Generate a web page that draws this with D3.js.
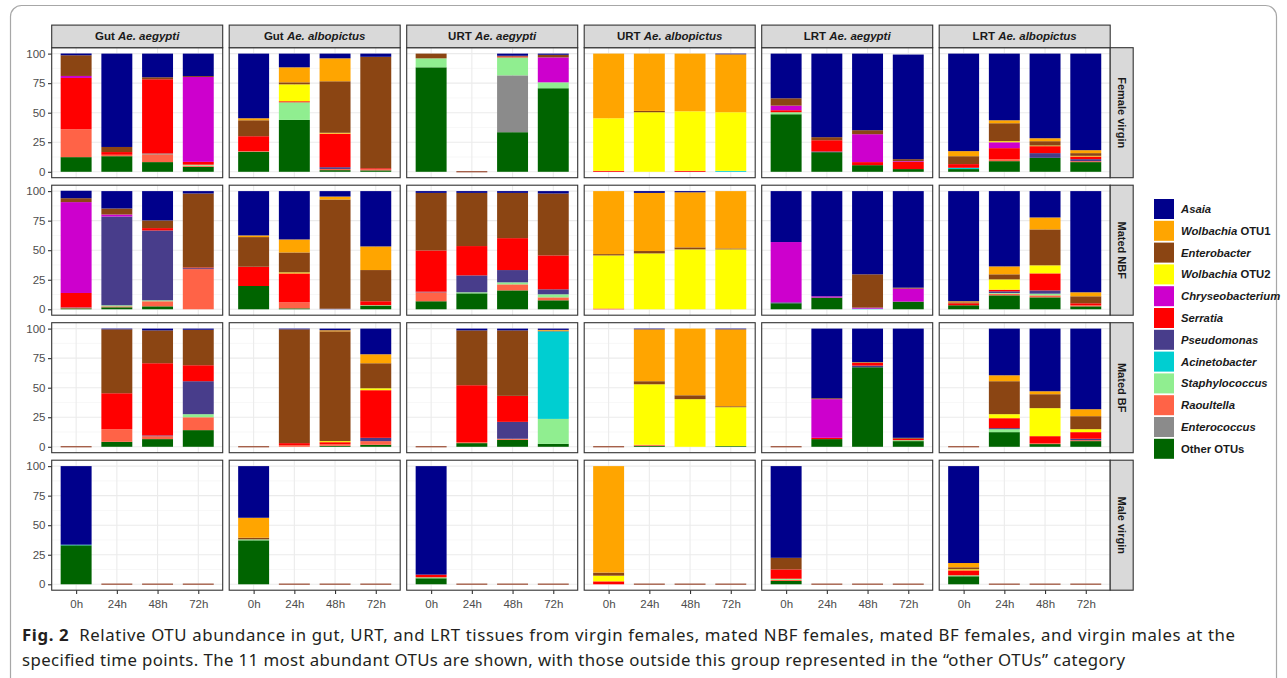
<!DOCTYPE html>
<html>
<head>
<meta charset="utf-8">
<script src="https://cdn.jsdelivr.net/npm/d3@7"></script>
<style>
  body { margin: 0; background: #fff; }
  svg { display: block; }
</style>
</head>
<body>
<svg id="chart" width="1287" height="678"></svg>
<script>
// ---- data -------------------------------------------------------------
const timePoints = ["0h", "24h", "48h", "72h"];
const conditions = ["Female virgin", "Mated NBF", "Mated BF", "Male virgin"];
const tissues = ["Gut", "Gut", "URT", "URT", "LRT", "LRT"];
const species = ["Ae. aegypti", "Ae. albopictus", "Ae. aegypti", "Ae. albopictus", "Ae. aegypti", "Ae. albopictus"];
const yTicks = [0, 25, 50, 75, 100];

// stacking order, bottom to top
const taxonKeys = ["O", "En", "R", "St", "Ac", "Ps", "Se", "C", "W2", "Eb", "W1", "A"];
const taxonNames = ["Other OTUs", "Enterococcus", "Raoultella", "Staphylococcus", "Acinetobacter",
  "Pseudomonas", "Serratia", "Chryseobacterium", "Wolbachia OTU2", "Enterobacter", "Wolbachia OTU1", "Asaia"];
const taxonColors = ["#006400", "#8b8b8b", "#ff6347", "#90ee90", "#00ced1",
  "#483d8b", "#ff0000", "#cd00cd", "#ffff00", "#8b4513", "#ffa500", "#00008b"];

// relative abundance (%) per condition (rows) and time point (columns); {} = no sample
const gutAegypti = [
  [{O:12.4,R:23.6,Se:43.4,C:1.7,Eb:17.5,A:1.5}, {O:13.2,R:1.2,Se:2.3,Eb:4.3,A:79}, {O:8.2,R:6.7,Ac:0.5,Se:62.9,Eb:1.7,A:20}, {O:4.2,R:1,St:0.8,Se:2.4,C:71.8,Eb:0.8,A:19}],
  [{O:0.8,R:0.5,Ps:0.3,Se:12.2,C:76.9,Eb:3.3,A:6.3}, {O:1.7,R:0.8,St:0.9,Ps:75.1,C:1.7,Eb:5.1,A:14.7}, {O:2.5,R:4.3,St:0.8,Ps:59.1,Se:2,Eb:6.5,A:24.8}, {R:34,Ps:0.8,Se:0.6,Eb:62.6,A:2}],
  [{}, {O:4.2,R:10.7,Se:30.4,Eb:54.1,A:0.6}, {O:6.5,R:2.5,Ps:0.6,Se:61.1,Eb:27.8,A:1.5}, {O:14.1,R:10.9,St:2.6,Ps:27.9,Se:13.5,Eb:30,A:1}],
  [{O:33,Ac:0.5,A:66.5}, {}, {}, {}]
];
const gutAlbopictus = [
  [{O:17,R:0.5,Se:12.6,Eb:13.5,W1:1.7,A:54.7}, {O:43.9,St:14.9,Se:0.9,W2:14.3,Eb:1.7,W1:12.7,A:11.6}, {O:1.4,R:1,Ps:1.5,Se:28.5,W2:0.6,Eb:43.6,W1:19.4,A:4}, {O:1.2,R:1,Se:0.8,Eb:94.3,A:2.7}],
  [{O:19.7,Se:16.3,Eb:25.1,W1:1.4,A:37.5}, {O:0.8,R:5.1,Se:24.5,W2:0.8,Eb:16.9,W1:11,A:40.9}, {Ps:0.5,Eb:92.4,W1:2.5,A:4.6}, {O:3.1,St:0.4,Se:3.3,Eb:26.4,W1:20,A:46.8}],
  [{}, {R:1.4,Se:1.7,Eb:96.3,A:0.6}, {O:0.8,R:1.5,Se:1.6,W2:0.9,Eb:92.9,W1:0.9,A:1.4}, {O:1.7,R:3.1,Ps:2.8,Se:40.3,W2:1.6,Eb:21.2,W1:7.6,A:21.7}],
  [{O:37.2,St:0.8,Eb:1.4,W1:16.9,A:43.7}, {}, {}, {}]
];
const urtAegypti = [
  [{O:88.4,St:7.6,Eb:4}, {}, {O:33.5,En:48.1,St:15.2,Se:0.8,Eb:0.6,A:1.8}, {O:70.7,St:5,C:21.1,Eb:2.2,A:1}],
  [{O:6.8,R:7.6,Ps:0.5,Se:34.9,Eb:48.7,A:1.5}, {O:13.5,St:0.9,Ps:14.3,Se:24.8,Eb:45,A:1.5}, {O:16,R:5.1,St:1.7,Ps:10.4,Se:27,Eb:38.3,A:1.5}, {O:7.6,R:2.5,St:2.6,Ps:4.2,Se:28.7,Eb:52.4,A:2}],
  [{}, {O:3.1,R:0.8,Se:48.2,Eb:46.4,A:1.5}, {O:5.9,R:0.9,Ps:14.3,Se:22,Eb:55.4,A:1.5}, {O:2.5,St:21.1,Ac:74.1,Eb:0.6,W1:0.6,A:1.1}],
  [{O:5.1,St:0.8,Se:2.3,A:91.8}, {}, {}, {}]
];
const urtAlbopictus = [
  [{Se:0.8,W2:44.5,W1:54.7}, {W2:50.4,Eb:1.1,W1:48.5}, {Se:0.8,W2:50.4,W1:48.8}, {Ac:0.8,W2:49.6,W1:49,A:0.6}],
  [{Se:0.6,W2:45,Eb:1.1,W1:53.3}, {W2:47.3,Eb:2,W1:49.2,A:1.5}, {W2:50.7,Eb:1.7,W1:46.6,A:1}, {W2:50.7,Eb:0.8,W1:48.5}],
  [{}, {O:0.8,R:0.9,W2:51.2,Eb:2.6,W1:43.9,A:0.6}, {W2:40.3,Eb:3.3,W1:56.4}, {O:0.6,W2:32.9,Eb:0.8,W1:65.1,A:0.6}],
  [{Se:2.5,W2:4.8,Eb:2.6,W1:90.1}, {}, {}, {}]
];
const lrtAegypti = [
  [{O:48.7,St:1.7,Se:1.7,C:3.9,Eb:6.2,A:37.8}, {O:16.6,Ps:0.6,Se:9.5,Eb:2.6,A:70.7}, {O:5.6,Se:2.6,C:23.6,Eb:3.4,A:64.8}, {O:2.3,Se:6.1,C:0.6,Eb:1.7,A:88.5}],
  [{O:5.1,Ps:0.8,C:51,A:43.1}, {O:9.9,C:1.1,A:89}, {Ac:0.5,C:0.9,Eb:28.2,A:70.4}, {O:6.5,C:11,Eb:0.8,A:81.7}],
  [{}, {O:6.5,Se:1.1,C:32.7,Eb:0.8,A:58.9}, {O:67.3,Ps:1.4,Se:2.2,W1:0.6,A:28.5}, {O:4.8,St:0.8,Se:1.2,Eb:0.8,A:92.4}],
  [{O:2.8,R:1,St:0.9,Se:7.9,Eb:9.8,A:77.6}, {}, {}, {}]
];
const lrtAlbopictus = [
  [{O:2.3,Ac:1.1,Se:3.1,Eb:6.7,W1:4.3,A:82.5}, {O:9,R:1.7,Se:9.3,C:5,W2:0.9,Eb:15.2,W1:2.5,A:56.4}, {O:11.8,Ps:4,Se:5.9,W2:0.5,Eb:3.7,W1:2.5,A:71.6}, {O:8.2,R:0.8,Ps:1.7,Se:2.3,W2:0.5,Eb:2.3,W1:2.5,A:81.7}],
  [{O:3.4,Se:1.7,Eb:0.8,W1:0.9,A:93.2}, {O:11.8,R:1.4,St:0.6,Ps:1.4,Se:1.4,W2:8.7,Eb:4.3,W1:6.7,A:63.7}, {O:10.1,R:1.7,St:1.4,Ps:2.8,Se:14.4,W2:6.8,Eb:30.4,W1:10.1,A:22.3}, {O:2.5,R:0.9,Se:1.7,Eb:5.9,W1:3.4,A:85.6}],
  [{}, {O:12.4,St:2.5,Ps:0.9,Se:8.4,W2:3.4,Eb:27.9,W1:5,A:39.5}, {O:2.3,R:0.8,Se:5.9,W2:23.7,Eb:11.8,W1:2.5,A:53}, {O:4.8,R:0.8,Ps:1.2,Se:5.6,W2:2.5,Eb:11,W1:5.9,A:68.2}],
  [{O:6.8,St:0.8,Se:4.2,W2:0.9,Eb:1.7,W1:3.6,A:82}, {}, {}, {}]
];
const panelData = [gutAegypti, gutAlbopictus, urtAegypti, urtAlbopictus, lrtAegypti, lrtAlbopictus];

const captionLines = [
  "Relative OTU abundance in gut, URT, and LRT tissues from virgin females, mated NBF females, mated BF females, and virgin males at the",
  "specified time points. The 11 most abundant OTUs are shown, with those outside this group represented in the \u201cother OTUs\u201d category"
];

// ---- layout -----------------------------------------------------------
const svg = d3.select("#chart");
const font = "'Liberation Sans', Arial, sans-serif";
const panelW = 171, panelH = 130;
const left0 = 51.7, top0 = 47.7;
const colStep = 177.5, rowStep = 137.5;
const stripH = 22.6, stripW = 23;
const ink = "#333333";

// outer frame of the figure
svg.append("rect")
  .attr("x", 10.5).attr("y", 5.5).attr("width", 1266).attr("height", 700)
  .attr("rx", 11).attr("fill", "none").attr("stroke", "#a7a7a7").attr("stroke-width", 1.2);

const x = d3.scalePoint().domain(timePoints).range([0, panelW]).padding(0.6);
const barW = x.step() * 0.76;
const y = d3.scaleLinear().domain([-5, 105]).range([panelH, 0]);

const stack = d3.stack().keys(taxonKeys).value((d, k) => d[k] || 0);
const colorOf = d3.scaleOrdinal().domain(taxonKeys).range(taxonColors);

panelData.forEach((colData, ci) => {
  conditions.forEach((cond, ri) => {
    const g = svg.append("g")
      .attr("transform", `translate(${left0 + ci * colStep},${top0 + ri * rowStep})`);

    // grid
    const minor = d3.range(12.5, 100, 25);
    g.selectAll(".gmin").data(minor).join("line")
      .attr("x1", 0).attr("x2", panelW)
      .attr("y1", d => y(d)).attr("y2", d => y(d))
      .attr("stroke", "#f2f2f2").attr("stroke-width", 0.6);
    g.selectAll(".gmaj").data(yTicks).join("line")
      .attr("x1", 0).attr("x2", panelW)
      .attr("y1", d => y(d)).attr("y2", d => y(d))
      .attr("stroke", "#ebebeb").attr("stroke-width", 1.1);
    g.selectAll(".gx").data(timePoints).join("line")
      .attr("x1", d => x(d)).attr("x2", d => x(d))
      .attr("y1", 0).attr("y2", panelH)
      .attr("stroke", "#ebebeb").attr("stroke-width", 1.1);

    // stacked bars
    const rows = colData[ri].map((d, i) => Object.assign({ time: timePoints[i] }, d));
    const series = stack(rows);
    g.selectAll(".layer").data(series).join("g")
      .attr("fill", s => colorOf(s.key))
      .selectAll("rect").data(s => s.filter(p => p[1] - p[0] > 0)).join("rect")
      .attr("x", p => x(p.data.time) - barW / 2)
      .attr("width", barW)
      .attr("y", p => y(p[1]))
      .attr("height", p => y(p[0]) - y(p[1]));

    // time points with no sample show an empty baseline
    const empty = rows.filter(r => d3.sum(taxonKeys, k => r[k] || 0) === 0);
    g.selectAll(".empty").data(empty).join("rect")
      .attr("x", r => x(r.time) - barW / 2).attr("width", barW)
      .attr("y", y(0) - 0.8).attr("height", 1.4)
      .attr("fill", "#a5604a");

    // panel border
    g.append("rect").attr("width", panelW).attr("height", panelH)
      .attr("fill", "none").attr("stroke", ink).attr("stroke-width", 1.1);

    // axes on the outer panels only
    if (ci === 0) {
      const ay = g.append("g").call(d3.axisLeft(y).tickValues(yTicks).tickSize(3.7).tickPadding(2.5));
      ay.select(".domain").remove();
      ay.selectAll("line").attr("stroke", ink).attr("stroke-width", 1.1);
      ay.selectAll("text").attr("fill", "#4d4d4d").attr("font-size", 11.5).attr("font-family", font);
    }
    if (ri === conditions.length - 1) {
      const ax = g.append("g").attr("transform", `translate(0,${panelH})`)
        .call(d3.axisBottom(x).tickSize(3.7).tickPadding(6));
      ax.select(".domain").remove();
      ax.selectAll("line").attr("stroke", ink).attr("stroke-width", 1.1);
      ax.selectAll("text").attr("fill", "#4d4d4d").attr("font-size", 11.5).attr("font-family", font);
    }

    // top strip
    if (ri === 0) {
      g.append("rect").attr("y", -stripH).attr("width", panelW).attr("height", stripH)
        .attr("fill", "#d9d9d9").attr("stroke", ink).attr("stroke-width", 1.1);
      const t = g.append("text").attr("x", panelW / 2).attr("y", -stripH / 2 + 4)
        .attr("text-anchor", "middle").attr("font-family", font)
        .attr("font-size", 11.5).attr("font-weight", "bold").attr("fill", "#1a1a1a");
      t.append("tspan").text(tissues[ci] + " ");
      t.append("tspan").attr("font-style", "italic").text(species[ci]);
    }
    // right strip
    if (ci === panelData.length - 1) {
      g.append("rect").attr("x", panelW).attr("width", stripW).attr("height", panelH)
        .attr("fill", "#d9d9d9").attr("stroke", ink).attr("stroke-width", 1.1);
      g.append("text")
        .attr("transform", `translate(${panelW + stripW / 2 - 4},${panelH / 2}) rotate(90)`)
        .attr("text-anchor", "middle").attr("font-family", font)
        .attr("font-size", 11).attr("font-weight", "bold").attr("fill", "#1a1a1a")
        .text(cond);
    }
  });
});

// ---- legend -----------------------------------------------------------
const legendOrder = d3.range(taxonKeys.length).reverse();
const legend = svg.append("g").attr("transform", "translate(1154,199)");
const item = legend.selectAll("g").data(legendOrder).join("g")
  .attr("transform", (d, i) => `translate(0,${i * 21.8})`);
item.append("rect").attr("width", 20).attr("height", 20).attr("fill", i => taxonColors[i]);
item.each(function (i) {
  const name = taxonNames[i];
  const t = d3.select(this).append("text").attr("x", 27).attr("y", 14)
    .attr("font-family", font).attr("font-size", 11.3).attr("font-weight", "bold").attr("fill", "#1a1a1a");
  if (name === "Other OTUs") {
    t.text(name);
  } else if (name.startsWith("Wolbachia")) {
    t.append("tspan").attr("font-style", "italic").text("Wolbachia");
    t.append("tspan").text(name.slice(9));
  } else {
    t.attr("font-style", "italic").text(name);
  }
});

// ---- caption ----------------------------------------------------------
const capFont = "'Noto Sans', 'Open Sans', sans-serif";
const cap = svg.append("g").attr("font-family", capFont).attr("font-size", 16.8).attr("fill", "#231f20");
const l1 = cap.append("text").attr("x", 22).attr("y", 641)
  .attr("textLength", 1213).attr("lengthAdjust", "spacing");
l1.append("tspan").attr("font-weight", "bold").text("Fig. 2");
l1.append("tspan").attr("dx", 10).text(captionLines[0]);
cap.append("text").attr("x", 22).attr("y", 666)
  .attr("textLength", 1103).attr("lengthAdjust", "spacing")
  .text(captionLines[1]);
</script>
</body>
</html>
